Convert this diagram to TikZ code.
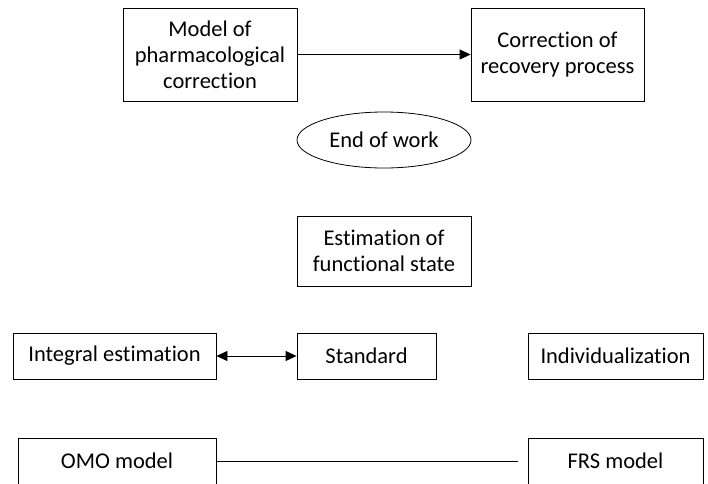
\documentclass[tikz,border=0pt]{standalone}
\usepackage{fontspec}
\setmainfont{Carlito}[Ligatures=NoCommon]
\usetikzlibrary{positioning, arrows.meta, shapes.geometric}

\begin{document}
\begin{tikzpicture}[x=1pt, y=-1pt,
    ->/.style={-{Triangle[length=11pt, width=10pt]}, line width=0.8pt},
    <->/.style={{Triangle[length=11pt, width=10pt]}-{Triangle[length=11pt, width=10pt]}, line width=0.8pt},
    box/.style={draw, line width=0.8pt, align=center, inner sep=0pt,
      font=\fontsize{22.5}{26}\selectfont}]
        \useasboundingbox (0,0) rectangle (708,483);
        % top row
        \node [box, minimum width=174pt, minimum height=93pt] (model) at (210,54.5)
        {Model of\\pharmacological\\correction};
        \node [box, minimum width=173pt, minimum height=93pt] (recovery) at (557.5,54.5)
        {Correction of\\recovery process};
        \node [box, ellipse, minimum width=174pt, minimum height=56pt] (endwork) at (384,140)
        {End of work};
        \node [box, minimum width=174pt, minimum height=70pt] (estim) at (384,251)
        {Estimation of\\functional state};
        % third row
        \node [box, minimum width=203pt, minimum height=46pt] (integral) at (114.5,356)
        {Integral estimation};
        \node [box, minimum width=139pt, minimum height=46pt] (standard) at (366.5,356)
        {Standard};
        \node [box, minimum width=175pt, minimum height=46pt] (indiv) at (615.5,356)
        {Individualization};
        % bottom row
        \node [box, minimum width=198pt, minimum height=46pt] (omo) at (117,461)
        {OMO model};
        \node [box, minimum width=175pt, minimum height=46pt] (frs) at (615.5,461)
        {FRS model};
        \coordinate (frsend) at (518,461);
        \draw[->] (model) -- (recovery);
        \draw[<->] (integral) -- (standard);
        \draw[line width=0.8pt] (omo) -- (frsend);
      \end{tikzpicture}
\end{document}
